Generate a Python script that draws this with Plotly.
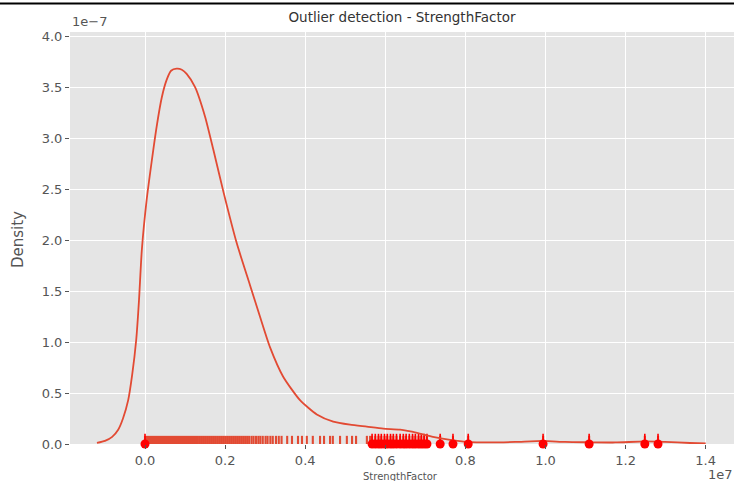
import plotly.graph_objects as go

# ---- data (x in units of 1e7, density in units of 1e-7) ----
kde_x = [-0.120, -0.100, -0.082, -0.067, -0.055, -0.042, -0.032, -0.022, -0.015, -0.008,
         0.004, 0.017, 0.029, 0.042, 0.054, 0.065, 0.079, 0.092, 0.104, 0.125,
         0.150, 0.171, 0.196, 0.229, 0.262, 0.287, 0.312, 0.345, 0.387, 0.429,
         0.470, 0.512, 0.554, 0.595, 0.637, 0.679, 0.719, 0.762, 0.804, 0.861,
         0.924, 0.994, 1.049, 1.109, 1.174, 1.248, 1.298, 1.361, 1.400]
kde_density = [0.01, 0.03, 0.07, 0.14, 0.25, 0.43, 0.68, 1.02, 1.41, 1.90,
               2.39, 2.78, 3.11, 3.40, 3.57, 3.66, 3.68, 3.67, 3.63, 3.50,
               3.21, 2.88, 2.47, 1.97, 1.56, 1.25, 0.95, 0.66, 0.43, 0.29,
               0.22, 0.19, 0.17, 0.15, 0.14, 0.11, 0.07, 0.04, 0.02, 0.015,
               0.02, 0.03, 0.02, 0.017, 0.015, 0.025, 0.02, 0.01, 0.005]

rug_values = [0.000, 0.005, 0.010, 0.015, 0.020, 0.025, 0.030, 0.035, 0.040, 0.045,
              0.050, 0.055, 0.060, 0.065, 0.070, 0.075, 0.080, 0.085, 0.090, 0.095,
              0.100, 0.105, 0.110, 0.115, 0.120, 0.125, 0.130, 0.135, 0.140, 0.145,
              0.150, 0.155, 0.160, 0.165, 0.170, 0.175, 0.180, 0.185, 0.190, 0.195,
              0.200, 0.205, 0.210, 0.215, 0.220, 0.225, 0.230, 0.235, 0.240, 0.245,
              0.250, 0.255, 0.260, 0.266, 0.271, 0.277, 0.283, 0.288, 0.294, 0.301,
              0.306, 0.313, 0.319, 0.327, 0.334, 0.341, 0.355, 0.367, 0.382, 0.392,
              0.404, 0.419, 0.437, 0.447, 0.462, 0.469, 0.487, 0.504, 0.517, 0.527,
              0.554, 0.562]

outlier_values = [0.000, 0.567, 0.575, 0.583, 0.590, 0.598, 0.605, 0.613, 0.620, 0.628,
                  0.637, 0.645, 0.652, 0.660, 0.668, 0.675, 0.683, 0.690, 0.697, 0.704,
                  0.737, 0.769, 0.807, 0.994, 1.109, 1.248, 1.281]

x_ticks = [0.0, 0.2, 0.4, 0.6, 0.8, 1.0, 1.2, 1.4]
y_ticks = [0.0, 0.5, 1.0, 1.5, 2.0, 2.5, 3.0, 3.5, 4.0]

RUG_H = 0.08
OUT_H = 0.10
ORANGE = "#E24A33"
FONT = "DejaVu Sans"

def rug_xy(vals, h):
    xs, ys = [], []
    for v in vals:
        xs += [v, v, None]
        ys += [0, h, None]
    return xs, ys

fig = go.Figure()

rx, ry = rug_xy(rug_values + outlier_values[1:], RUG_H)
fig.add_trace(go.Scatter(x=rx, y=ry, mode="lines",
                         line=dict(color=ORANGE, width=2.1), hoverinfo="skip"))

ox, oy = rug_xy(outlier_values, OUT_H)
fig.add_trace(go.Scatter(x=ox, y=oy, mode="lines",
                         line=dict(color="red", width=1.6), hoverinfo="skip"))

fig.add_trace(go.Scatter(x=kde_x, y=kde_density, mode="lines",
                         line=dict(color=ORANGE, width=1.8, shape="spline", smoothing=0.6)))

fig.add_trace(go.Scatter(x=outlier_values, y=[0] * len(outlier_values), mode="markers",
                         marker=dict(color="red", size=9, line=dict(width=0)),
                         cliponaxis=False))

axis_common = dict(showgrid=True, gridcolor="white", gridwidth=1.2, zeroline=False,
                   showline=False, ticks="outside", ticklen=4, tickwidth=1,
                   tickcolor="#555555", tickfont=dict(family=FONT, size=13, color="#555555"))

fig.update_layout(
    width=734, height=481,
    margin=dict(l=70, r=0, t=32, b=37),
    paper_bgcolor="white", plot_bgcolor="#E5E5E5",
    showlegend=False,
    title=dict(text="Outlier detection - StrengthFactor", x=0.5, xref="paper",
               y=1 - 17 / 481, yref="container", yanchor="middle", xanchor="center",
               font=dict(family=FONT, size=13.5, color="#333333")),
    xaxis=dict(range=[-0.1873, 1.4707], tickvals=x_ticks,
               ticktext=[f"{t:.1f}" for t in x_ticks], **axis_common),
    yaxis=dict(range=[0, 4.04], tickvals=y_ticks,
               ticktext=[f"{t:.1f}" for t in y_ticks], **axis_common),
)

fig.add_annotation(text="1e\u22127", xref="paper", yref="paper", x=0.0, y=1.0243,
                   xanchor="left", yanchor="middle", showarrow=False,
                   font=dict(family=FONT, size=13, color="#555555"))
fig.add_annotation(text="1e7", xref="paper", yref="paper", x=0.958, y=-0.075,
                   xanchor="left", yanchor="middle", showarrow=False,
                   font=dict(family=FONT, size=13, color="#555555"))
fig.add_annotation(text="StrengthFactor", xref="paper", yref="paper", x=(400 - 70) / 664,
                   y=-0.0777, xanchor="center", yanchor="middle", showarrow=False,
                   font=dict(family=FONT, size=10, color="#555555"))
fig.add_annotation(text="Density", xref="paper", yref="paper", x=-0.0783, y=0.495,
                   xanchor="center", yanchor="middle", textangle=-90, showarrow=False,
                   font=dict(family=FONT, size=15, color="#555555"))

fig.add_shape(type="line", xref="paper", yref="paper", x0=-0.106, x1=1.0,
              y0=1.069, y1=1.069, line=dict(color="black", width=2))

fig.write_html("out.html", config={"displayModeBar": False},
               post_script="document.body.style.margin='0';")
